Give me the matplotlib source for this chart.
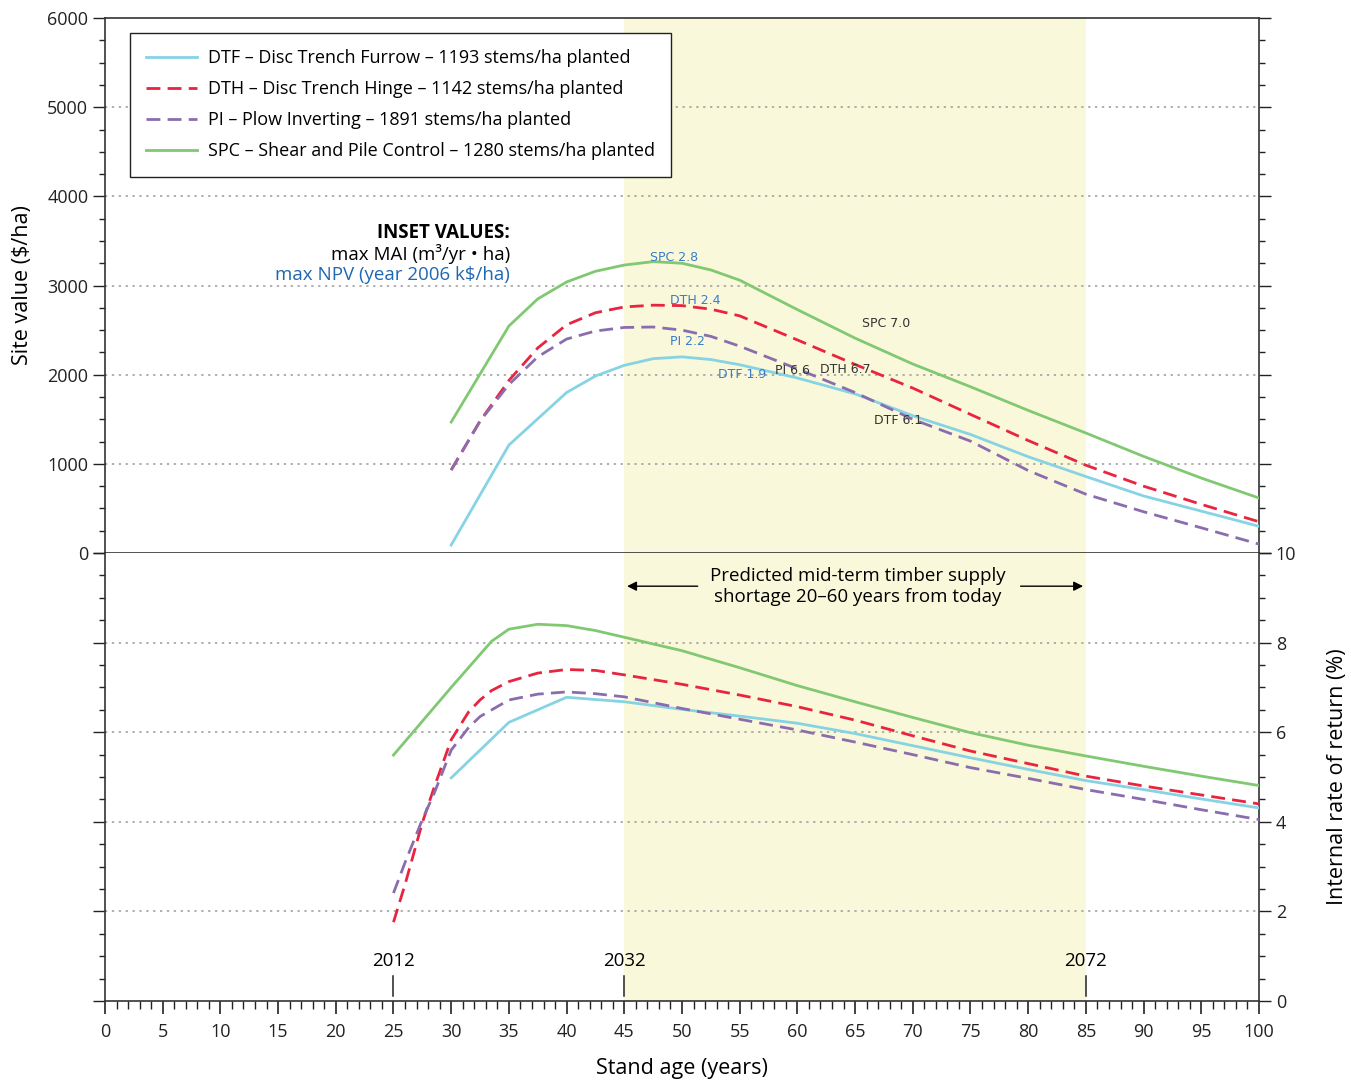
import matplotlib
matplotlib.use('Agg')
import matplotlib.pyplot as plt
from matplotlib.ticker import MultipleLocator

plt.rcParams['font.family'] = ['Open Sans', 'DejaVu Sans']

# --- site value ($/ha), top panel ---
dtf_sv_age = [30, 35, 40, 42.5, 45, 47.5, 50, 52.5, 55, 60, 65, 70, 75, 80, 85, 90, 95, 100]
dtf_sv = [90, 1211, 1800, 1985, 2105, 2180, 2200, 2170, 2112, 1963, 1785, 1540, 1330, 1080, 858, 640, 470, 300]

dth_sv_age = [30, 32.5, 35, 37.5, 40, 42.5, 45, 47.5, 50, 52.5, 55, 60, 65, 70, 75, 80, 85, 90, 95, 100]
dth_sv = [931, 1480, 1935, 2300, 2560, 2695, 2760, 2780, 2775, 2735, 2660, 2390, 2115, 1850, 1555, 1262, 985, 750, 546, 351]

pi_sv_age = [30, 32.5, 35, 37.5, 40, 42.5, 45, 47.5, 50, 52.5, 55, 60, 65, 70, 75, 80, 85, 90, 95, 100]
pi_sv = [931, 1480, 1890, 2200, 2400, 2490, 2530, 2535, 2500, 2430, 2320, 2065, 1800, 1500, 1255, 925, 660, 463, 283, 100]

spc_sv_age = [30, 35, 37.5, 40, 42.5, 45, 47.5, 50, 52.5, 55, 60, 65, 70, 75, 80, 85, 90, 95, 100]
spc_sv = [1469, 2546, 2850, 3040, 3160, 3230, 3268, 3250, 3175, 3060, 2730, 2410, 2120, 1865, 1600, 1346, 1084, 841, 617]

# --- internal rate of return (%), bottom panel ---
dtf_irr_age = [30, 35, 40, 42.5, 45, 50, 55, 60, 65, 70, 75, 80, 85, 90, 95, 100]
dtf_irr = [4.98, 6.22, 6.78, 6.73, 6.68, 6.51, 6.36, 6.2, 5.97, 5.7, 5.43, 5.17, 4.92, 4.72, 4.51, 4.31]

dth_irr_age = [25, 26, 27.5, 28.5, 30, 31.5, 32.5, 33.5, 35, 37.5, 40, 42.5, 45, 50, 55, 60, 65, 70, 75, 80, 85, 90, 95, 100]
dth_irr = [1.76, 2.6, 3.98, 4.75, 5.83, 6.45, 6.72, 6.93, 7.13, 7.32, 7.4, 7.38, 7.28, 7.07, 6.83, 6.57, 6.27, 5.92, 5.58, 5.3, 5.02, 4.8, 4.6, 4.4]

pi_irr_age = [25, 26, 27.5, 28.5, 30, 31.5, 32.5, 35, 37.5, 40, 42.5, 45, 50, 55, 60, 65, 70, 75, 80, 85, 90, 95, 100]
pi_irr = [2.41, 3.09, 4.05, 4.62, 5.6, 6.1, 6.35, 6.72, 6.85, 6.9, 6.86, 6.79, 6.53, 6.29, 6.05, 5.78, 5.5, 5.21, 4.97, 4.72, 4.5, 4.27, 4.05]

spc_irr_age = [25, 30, 33.5, 35, 37.5, 40, 42.5, 45, 50, 55, 60, 65, 70, 75, 80, 85, 90, 95, 100]
spc_irr = [5.49, 7.0, 8.03, 8.3, 8.41, 8.38, 8.27, 8.12, 7.82, 7.44, 7.04, 6.68, 6.33, 5.99, 5.71, 5.47, 5.24, 5.02, 4.81]

labels = ["DTF – Disc Trench Furrow – 1193 stems/ha planted",
          "DTH – Disc Trench Hinge – 1142 stems/ha planted",
          "PI – Plow Inverting – 1891 stems/ha planted",
          "SPC – Shear and Pile Control – 1280 stems/ha planted"]
colors = ["#86d3e4", "#e8243f", "#8a6dad", "#80c872"]
styles = ["-", (0, (5, 2.6)), (0, (5, 2.6)), "-"]

# inset label text: (text, age, value)
inset_npv = [("SPC 2.8", 47.2, 3320), ("DTH 2.4", 49.0, 2837), ("PI 2.2", 49.0, 2377), ("DTF 1.9", 53.1, 2007)]
inset_mai = [("PI 6.6", 58.1, 2052), ("DTH 6.7", 62.0, 2063), ("SPC 7.0", 65.6, 2579), ("DTF 6.1", 66.6, 1492)]

year_marks = [(25, "2012"), (45, "2032"), (85, "2072")]
shade = (45, 85)

fig = plt.figure(figsize=(13.51, 10.81), dpi=100)
ax_top = fig.add_axes([0.0777, 0.4884, 0.8542, 0.4949])
ax_bot = fig.add_axes([0.0777, 0.0740, 0.8542, 0.4144])

grid_kw = dict(color="#9a9a9a", lw=1.1, linestyle=(0, (1.5, 3)), zorder=1)
shade_col = "#faf8da"
lw = 2.0

# top panel
ax_top.axvspan(*shade, color=shade_col, lw=0, zorder=0)
for v in range(1000, 6000, 1000):
    ax_top.axhline(v, **grid_kw)
top_series = [(dtf_sv_age, dtf_sv), (dth_sv_age, dth_sv), (pi_sv_age, pi_sv), (spc_sv_age, spc_sv)]
for (x, y), c, s, lab in zip(top_series, colors, styles, labels):
    ax_top.plot(x, y, color=c, linestyle=s, lw=lw, label=lab, zorder=3)
ax_top.set_xlim(0, 100)
ax_top.set_ylim(0, 6000)
ax_top.yaxis.set_major_locator(MultipleLocator(1000))
ax_top.yaxis.set_minor_locator(MultipleLocator(250))
ax_top.tick_params(axis='x', which='both', bottom=False, labelbottom=False)
ax_top.tick_params(axis='y', which='both', direction='out', left=True, right=True,
                   labelleft=True, labelright=False, labelsize=13, colors='#222222')
ax_top.tick_params(axis='y', which='major', length=8.5, width=1)
ax_top.tick_params(axis='y', which='minor', length=4.5, width=1)
ax_top.set_ylabel("Site value ($/ha)", fontsize=15.5, labelpad=10)
for sp in ax_top.spines.values():
    sp.set_color('#333333')
    sp.set_linewidth(1.2)

leg = ax_top.legend(loc='upper left', bbox_to_anchor=(0.0217, 0.972), borderaxespad=0,
                    fontsize=13, handlelength=2.8, handletextpad=0.6, labelspacing=0.72,
                    borderpad=0.9, fancybox=False, framealpha=1, edgecolor='#222222')
leg.get_frame().set_linewidth(1.0)

ax_top.text(35.1, 3589, "INSET VALUES:", ha='right', va='center', fontsize=13.5, fontweight='bold')
ax_top.text(35.1, 3353, "max MAI (m³/yr • ha)", ha='right', va='center', fontsize=13.5)
ax_top.text(35.1, 3118, "max NPV (year 2006 k$/ha)", ha='right', va='center', fontsize=13.5, color='#1f66b3')
for t, x, y in inset_npv:
    ax_top.text(x, y, t, ha='left', va='center', fontsize=9, color='#3a7cc9',
                family='DejaVu Sans', zorder=4)
for t, x, y in inset_mai:
    ax_top.text(x, y, t, ha='left', va='center', fontsize=9, color='#333333',
                family='DejaVu Sans', zorder=4)

# bottom panel
ax_bot.axvspan(*shade, color=shade_col, lw=0, zorder=0)
for v in range(2, 10, 2):
    ax_bot.axhline(v, **grid_kw)
bot_series = [(dtf_irr_age, dtf_irr), (dth_irr_age, dth_irr), (pi_irr_age, pi_irr), (spc_irr_age, spc_irr)]
for (x, y), c, s in zip(bot_series, colors, styles):
    ax_bot.plot(x, y, color=c, linestyle=s, lw=lw, zorder=3)
ax_bot.set_xlim(0, 100)
ax_bot.set_ylim(0, 10)
ax_bot.xaxis.set_major_locator(MultipleLocator(5))
ax_bot.xaxis.set_minor_locator(MultipleLocator(1))
ax_bot.yaxis.set_major_locator(MultipleLocator(2))
ax_bot.yaxis.set_minor_locator(MultipleLocator(0.5))
ax_bot.tick_params(axis='x', which='both', direction='out', labelsize=13, colors='#222222')
ax_bot.tick_params(axis='x', which='major', length=9, width=1.2, pad=7)
ax_bot.tick_params(axis='x', which='minor', length=5.5, width=1)
ax_bot.tick_params(axis='y', which='both', direction='out', left=True, right=True,
                   labelleft=False, labelright=True, labelsize=13, colors='#222222')
ax_bot.tick_params(axis='y', which='major', length=8.5, width=1)
ax_bot.tick_params(axis='y', which='minor', length=4.5, width=1)
ax_bot.yaxis.set_label_position('right')
ax_bot.set_ylabel("Internal rate of return (%)", fontsize=15.5, labelpad=22)
ax_bot.set_xlabel("Stand age (years)", fontsize=15.5, labelpad=12)
ax_bot.spines['top'].set_visible(False)
for sp in ['left', 'right', 'bottom']:
    ax_bot.spines[sp].set_color('#333333')
    ax_bot.spines[sp].set_linewidth(1.2)

for x, yr in year_marks:
    ax_bot.plot([x, x], [0.11, 0.55], color='#222222', lw=1.1, zorder=4)
    ax_bot.text(x, 0.9, yr, ha='center', va='center', fontsize=13.5, zorder=4)

ax_bot.text(65.2, 9.26, "Predicted mid-term timber supply\nshortage 20–60 years from today",
            ha='center', va='center', fontsize=13.5, linespacing=1.2)
ax_bot.annotate("", xy=(45, 9.26), xytext=(51.6, 9.26),
                arrowprops=dict(arrowstyle='-|>', color='black', lw=1, mutation_scale=14))
ax_bot.annotate("", xy=(85, 9.26), xytext=(79.1, 9.26),
                arrowprops=dict(arrowstyle='-|>', color='black', lw=1, mutation_scale=14))

plt.savefig("out.png", dpi=100)
plt.close()
